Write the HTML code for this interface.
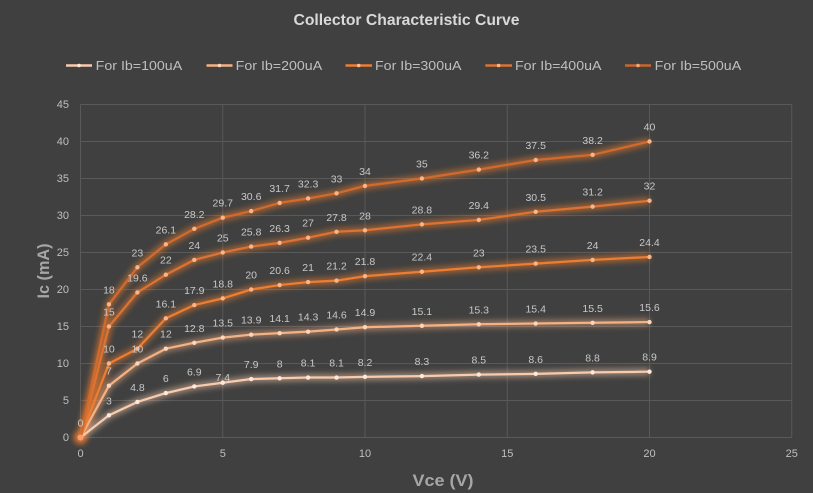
<!DOCTYPE html>
<html><head><meta charset="utf-8"><style>
html,body{margin:0;padding:0;background:#404040;}
svg{display:block;}
text{font-family:"Liberation Sans",sans-serif;}
</style></head><body>
<svg width="813" height="493" viewBox="0 0 813 493" xmlns="http://www.w3.org/2000/svg">
<defs>
<filter id="glow" filterUnits="userSpaceOnUse" x="0" y="0" width="813" height="493">
<feGaussianBlur stdDeviation="3"/>
</filter>
</defs>
<rect x="0" y="0" width="813" height="493" fill="#404040"/>
<!-- title -->
<text x="406.5" y="25" text-anchor="middle" font-size="16" font-weight="bold" fill="#d9d9d9" textLength="226" lengthAdjust="spacingAndGlyphs">Collector Characteristic Curve</text>
<!-- legend -->
<g stroke-width="2.5">
<line x1="66" y1="65.5" x2="92" y2="65.5" stroke="#f8cbad"/>
<line x1="206.5" y1="65.5" x2="232.5" y2="65.5" stroke="#f4b183"/>
<line x1="345.5" y1="65.5" x2="372" y2="65.5" stroke="#ed7d31"/>
<line x1="485.3" y1="65.5" x2="512" y2="65.5" stroke="#dd7232"/>
<line x1="625" y1="65.5" x2="651" y2="65.5" stroke="#c9652d"/>
</g>
<g>
<circle cx="79" cy="65.5" r="1.8" fill="#fde9dc"/>
<circle cx="219.5" cy="65.5" r="1.8" fill="#fbd5bc"/>
<circle cx="358.7" cy="65.5" r="1.8" fill="#f8c09a"/>
<circle cx="498.6" cy="65.5" r="1.8" fill="#f8b58a"/>
<circle cx="638" cy="65.5" r="1.8" fill="#f4a878"/>
</g>
<g font-size="13" fill="#bfbfbf">
<text x="95.7" y="70" textLength="86.5" lengthAdjust="spacingAndGlyphs">For Ib=100uA</text>
<text x="235.7" y="70" textLength="86.5" lengthAdjust="spacingAndGlyphs">For Ib=200uA</text>
<text x="375" y="70" textLength="86.5" lengthAdjust="spacingAndGlyphs">For Ib=300uA</text>
<text x="515" y="70" textLength="86.5" lengthAdjust="spacingAndGlyphs">For Ib=400uA</text>
<text x="654.7" y="70" textLength="86.5" lengthAdjust="spacingAndGlyphs">For Ib=500uA</text>
</g>
<!-- gridlines -->
<g stroke="#595959" stroke-width="1">
<line x1="80.5" y1="104.5" x2="791.75" y2="104.5"/>
<line x1="80.5" y1="141.5" x2="791.75" y2="141.5"/>
<line x1="80.5" y1="178.5" x2="791.75" y2="178.5"/>
<line x1="80.5" y1="215.5" x2="791.75" y2="215.5"/>
<line x1="80.5" y1="252.5" x2="791.75" y2="252.5"/>
<line x1="80.5" y1="289.5" x2="791.75" y2="289.5"/>
<line x1="80.5" y1="326.5" x2="791.75" y2="326.5"/>
<line x1="80.5" y1="363.5" x2="791.75" y2="363.5"/>
<line x1="80.5" y1="400.5" x2="791.75" y2="400.5"/>
<line x1="80.5" y1="437.5" x2="791.75" y2="437.5"/>
<line x1="80.5" y1="104.5" x2="80.5" y2="437.5"/>
<line x1="222.75" y1="104.5" x2="222.75" y2="437.5"/>
<line x1="365" y1="104.5" x2="365" y2="437.5"/>
<line x1="507.25" y1="104.5" x2="507.25" y2="437.5"/>
<line x1="649.5" y1="104.5" x2="649.5" y2="437.5"/>
<line x1="791.75" y1="104.5" x2="791.75" y2="437.5"/>
</g>
<!-- y tick labels -->
<g font-size="11" fill="#bfbfbf" text-anchor="end">
<text x="69" y="108">45</text>
<text x="69" y="145">40</text>
<text x="69" y="182">35</text>
<text x="69" y="219">30</text>
<text x="69" y="256">25</text>
<text x="69" y="293">20</text>
<text x="69" y="330">15</text>
<text x="69" y="367">10</text>
<text x="69" y="404">5</text>
<text x="69" y="441">0</text>
</g>
<!-- x tick labels -->
<g font-size="11" fill="#bfbfbf" text-anchor="middle">
<text x="80.5" y="457">0</text>
<text x="222.75" y="457">5</text>
<text x="365" y="457">10</text>
<text x="507.25" y="457">15</text>
<text x="649.5" y="457">20</text>
<text x="791.75" y="457">25</text>
</g>
<!-- axis titles -->
<text x="443" y="486" text-anchor="middle" font-size="17" font-weight="bold" fill="#a6a6a6" textLength="61" lengthAdjust="spacingAndGlyphs">Vce (V)</text>
<text x="0" y="0" transform="translate(49,271) rotate(-90)" text-anchor="middle" font-size="17" font-weight="bold" fill="#a6a6a6" textLength="55" lengthAdjust="spacingAndGlyphs">Ic (mA)</text>

<!-- glows -->
<g filter="url(#glow)" fill="none" stroke-linejoin="round" stroke-width="7">
<polyline stroke="#f8cbad" stroke-opacity="0.5" points="80.5,437.5 108.95,415.3 137.4,401.98 165.85,393.1 194.3,386.44 222.75,382.74 251.2,379.04 279.65,378.3 308.1,377.56 336.55,377.56 365,376.82 421.9,376.08 478.8,374.6 535.7,373.86 592.6,372.38 649.5,371.64"/>
<polyline stroke="#f4b183" stroke-opacity="0.5" points="80.5,437.5 108.95,385.7 137.4,363.5 165.85,348.7 194.3,342.78 222.75,337.6 251.2,334.64 279.65,333.16 308.1,331.68 336.55,329.46 365,327.24 421.9,325.76 478.8,324.28 535.7,323.54 592.6,322.8 649.5,322.06"/>
<polyline stroke="#ed7d31" stroke-opacity="0.55" points="80.5,437.5 108.95,363.5 137.4,348.7 165.85,318.36 194.3,305.04 222.75,298.38 251.2,289.5 279.65,285.06 308.1,282.1 336.55,280.62 365,276.18 421.9,271.74 478.8,267.3 535.7,263.6 592.6,259.9 649.5,256.94"/>
<polyline stroke="#ed7d31" stroke-opacity="0.55" points="80.5,437.5 108.95,326.5 137.4,292.46 165.85,274.7 194.3,259.9 222.75,252.5 251.2,246.58 279.65,242.88 308.1,237.7 336.55,231.78 365,230.3 421.9,224.38 478.8,219.94 535.7,211.8 592.6,206.62 649.5,200.7"/>
<polyline stroke="#ed7d31" stroke-opacity="0.55" points="80.5,437.5 108.95,304.3 137.4,267.3 165.85,244.36 194.3,228.82 222.75,217.72 251.2,211.06 279.65,202.92 308.1,198.48 336.55,193.3 365,185.9 421.9,178.5 478.8,169.62 535.7,160 592.6,154.82 649.5,141.5"/>
<circle cx="80.5" cy="437.5" r="6.5" fill="#ed7d31" stroke="none" opacity="0.95"/>
</g>

<!-- lines -->
<g fill="none" stroke-linejoin="round" stroke-width="2.25">
<polyline stroke="#f8cbad" points="80.5,437.5 108.95,415.3 137.4,401.98 165.85,393.1 194.3,386.44 222.75,382.74 251.2,379.04 279.65,378.3 308.1,377.56 336.55,377.56 365,376.82 421.9,376.08 478.8,374.6 535.7,373.86 592.6,372.38 649.5,371.64"/>
<polyline stroke="#f4b183" points="80.5,437.5 108.95,385.7 137.4,363.5 165.85,348.7 194.3,342.78 222.75,337.6 251.2,334.64 279.65,333.16 308.1,331.68 336.55,329.46 365,327.24 421.9,325.76 478.8,324.28 535.7,323.54 592.6,322.8 649.5,322.06"/>
<polyline stroke="#ed7d31" points="80.5,437.5 108.95,363.5 137.4,348.7 165.85,318.36 194.3,305.04 222.75,298.38 251.2,289.5 279.65,285.06 308.1,282.1 336.55,280.62 365,276.18 421.9,271.74 478.8,267.3 535.7,263.6 592.6,259.9 649.5,256.94"/>
<polyline stroke="#dd7232" points="80.5,437.5 108.95,326.5 137.4,292.46 165.85,274.7 194.3,259.9 222.75,252.5 251.2,246.58 279.65,242.88 308.1,237.7 336.55,231.78 365,230.3 421.9,224.38 478.8,219.94 535.7,211.8 592.6,206.62 649.5,200.7"/>
<polyline stroke="#d26a2c" points="80.5,437.5 108.95,304.3 137.4,267.3 165.85,244.36 194.3,228.82 222.75,217.72 251.2,211.06 279.65,202.92 308.1,198.48 336.55,193.3 365,185.9 421.9,178.5 478.8,169.62 535.7,160 592.6,154.82 649.5,141.5"/>
</g>

<!-- markers -->
<g fill="#fde9dc">
<circle cx="108.95" cy="415.3" r="2.2"/><circle cx="137.4" cy="401.98" r="2.2"/><circle cx="165.85" cy="393.1" r="2.2"/><circle cx="194.3" cy="386.44" r="2.2"/><circle cx="222.75" cy="382.74" r="2.2"/><circle cx="251.2" cy="379.04" r="2.2"/><circle cx="279.65" cy="378.3" r="2.2"/><circle cx="308.1" cy="377.56" r="2.2"/><circle cx="336.55" cy="377.56" r="2.2"/><circle cx="365" cy="376.82" r="2.2"/><circle cx="421.9" cy="376.08" r="2.2"/><circle cx="478.8" cy="374.6" r="2.2"/><circle cx="535.7" cy="373.86" r="2.2"/><circle cx="592.6" cy="372.38" r="2.2"/><circle cx="649.5" cy="371.64" r="2.2"/>
</g>
<g fill="#fbd5bc">
<circle cx="108.95" cy="385.7" r="2.2"/><circle cx="137.4" cy="363.5" r="2.2"/><circle cx="165.85" cy="348.7" r="2.2"/><circle cx="194.3" cy="342.78" r="2.2"/><circle cx="222.75" cy="337.6" r="2.2"/><circle cx="251.2" cy="334.64" r="2.2"/><circle cx="279.65" cy="333.16" r="2.2"/><circle cx="308.1" cy="331.68" r="2.2"/><circle cx="336.55" cy="329.46" r="2.2"/><circle cx="365" cy="327.24" r="2.2"/><circle cx="421.9" cy="325.76" r="2.2"/><circle cx="478.8" cy="324.28" r="2.2"/><circle cx="535.7" cy="323.54" r="2.2"/><circle cx="592.6" cy="322.8" r="2.2"/><circle cx="649.5" cy="322.06" r="2.2"/>
</g>
<g fill="#f8b58a">
<circle cx="108.95" cy="363.5" r="2.2"/><circle cx="137.4" cy="348.7" r="2.2"/><circle cx="165.85" cy="318.36" r="2.2"/><circle cx="194.3" cy="305.04" r="2.2"/><circle cx="222.75" cy="298.38" r="2.2"/><circle cx="251.2" cy="289.5" r="2.2"/><circle cx="279.65" cy="285.06" r="2.2"/><circle cx="308.1" cy="282.1" r="2.2"/><circle cx="336.55" cy="280.62" r="2.2"/><circle cx="365" cy="276.18" r="2.2"/><circle cx="421.9" cy="271.74" r="2.2"/><circle cx="478.8" cy="267.3" r="2.2"/><circle cx="535.7" cy="263.6" r="2.2"/><circle cx="592.6" cy="259.9" r="2.2"/><circle cx="649.5" cy="256.94" r="2.2"/>
<circle cx="108.95" cy="326.5" r="2.2"/><circle cx="137.4" cy="292.46" r="2.2"/><circle cx="165.85" cy="274.7" r="2.2"/><circle cx="194.3" cy="259.9" r="2.2"/><circle cx="222.75" cy="252.5" r="2.2"/><circle cx="251.2" cy="246.58" r="2.2"/><circle cx="279.65" cy="242.88" r="2.2"/><circle cx="308.1" cy="237.7" r="2.2"/><circle cx="336.55" cy="231.78" r="2.2"/><circle cx="365" cy="230.3" r="2.2"/><circle cx="421.9" cy="224.38" r="2.2"/><circle cx="478.8" cy="219.94" r="2.2"/><circle cx="535.7" cy="211.8" r="2.2"/><circle cx="592.6" cy="206.62" r="2.2"/><circle cx="649.5" cy="200.7" r="2.2"/>
<circle cx="108.95" cy="304.3" r="2.2"/><circle cx="137.4" cy="267.3" r="2.2"/><circle cx="165.85" cy="244.36" r="2.2"/><circle cx="194.3" cy="228.82" r="2.2"/><circle cx="222.75" cy="217.72" r="2.2"/><circle cx="251.2" cy="211.06" r="2.2"/><circle cx="279.65" cy="202.92" r="2.2"/><circle cx="308.1" cy="198.48" r="2.2"/><circle cx="336.55" cy="193.3" r="2.2"/><circle cx="365" cy="185.9" r="2.2"/><circle cx="421.9" cy="178.5" r="2.2"/><circle cx="478.8" cy="169.62" r="2.2"/><circle cx="535.7" cy="160" r="2.2"/><circle cx="592.6" cy="154.82" r="2.2"/><circle cx="649.5" cy="141.5" r="2.2"/>
</g>
<circle cx="80.5" cy="437.5" r="3" fill="#f4a070"/>

<!-- data labels -->
<g font-size="10.5" fill="#c8c8c8" text-anchor="middle">
<text x="80.5" y="426.5">0</text>
<!-- S1 -->
<text x="108.95" y="404.3">3</text>
<text x="137.4" y="391">4.8</text>
<text x="165.85" y="382.1">6</text>
<text x="194.3" y="375.4">6.9</text>
<text x="222.75" y="381">7.4</text>
<text x="251.2" y="368">7.9</text>
<text x="279.65" y="367.3">8</text>
<text x="308.1" y="366.6">8.1</text>
<text x="336.55" y="366.6">8.1</text>
<text x="365" y="365.8">8.2</text>
<text x="421.9" y="365.1">8.3</text>
<text x="478.8" y="363.6">8.5</text>
<text x="535.7" y="362.9">8.6</text>
<text x="592.6" y="361.4">8.8</text>
<text x="649.5" y="360.6">8.9</text>
<!-- S2 -->
<text x="108.95" y="374.7">7</text>
<text x="137.4" y="352.5">10</text>
<text x="165.85" y="337.7">12</text>
<text x="194.3" y="331.8">12.8</text>
<text x="222.75" y="326.6">13.5</text>
<text x="251.2" y="323.6">13.9</text>
<text x="279.65" y="322.2">14.1</text>
<text x="308.1" y="320.7">14.3</text>
<text x="336.55" y="318.5">14.6</text>
<text x="365" y="316.2">14.9</text>
<text x="421.9" y="314.8">15.1</text>
<text x="478.8" y="313.3">15.3</text>
<text x="535.7" y="312.5">15.4</text>
<text x="592.6" y="311.8">15.5</text>
<text x="649.5" y="311.1">15.6</text>
<!-- S3 -->
<text x="108.95" y="352.5">10</text>
<text x="137.4" y="337.7">12</text>
<text x="165.85" y="307.4">16.1</text>
<text x="194.3" y="294">17.9</text>
<text x="222.75" y="287.4">18.8</text>
<text x="251.2" y="278.5">20</text>
<text x="279.65" y="274.1">20.6</text>
<text x="308.1" y="271.1">21</text>
<text x="336.55" y="269.6">21.2</text>
<text x="365" y="265.2">21.8</text>
<text x="421.9" y="260.7">22.4</text>
<text x="478.8" y="256.3">23</text>
<text x="535.7" y="252.6">23.5</text>
<text x="592.6" y="248.9">24</text>
<text x="649.5" y="245.9">24.4</text>
<!-- S4 -->
<text x="108.95" y="315.5">15</text>
<text x="137.4" y="281.5">19.6</text>
<text x="165.85" y="263.7">22</text>
<text x="194.3" y="248.9">24</text>
<text x="222.75" y="241.5">25</text>
<text x="251.2" y="235.6">25.8</text>
<text x="279.65" y="231.9">26.3</text>
<text x="308.1" y="226.7">27</text>
<text x="336.55" y="220.8">27.8</text>
<text x="365" y="219.3">28</text>
<text x="421.9" y="213.4">28.8</text>
<text x="478.8" y="208.9">29.4</text>
<text x="535.7" y="200.8">30.5</text>
<text x="592.6" y="195.6">31.2</text>
<text x="649.5" y="189.7">32</text>
<!-- S5 -->
<text x="108.95" y="293.3">18</text>
<text x="137.4" y="256.3">23</text>
<text x="165.85" y="233.4">26.1</text>
<text x="194.3" y="217.8">28.2</text>
<text x="222.75" y="206.7">29.7</text>
<text x="251.2" y="200.1">30.6</text>
<text x="279.65" y="191.9">31.7</text>
<text x="308.1" y="187.5">32.3</text>
<text x="336.55" y="182.3">33</text>
<text x="365" y="174.9">34</text>
<text x="421.9" y="167.5">35</text>
<text x="478.8" y="158.6">36.2</text>
<text x="535.7" y="149">37.5</text>
<text x="592.6" y="143.8">38.2</text>
<text x="649.5" y="130.5">40</text>
</g>
</svg>
</body></html>
